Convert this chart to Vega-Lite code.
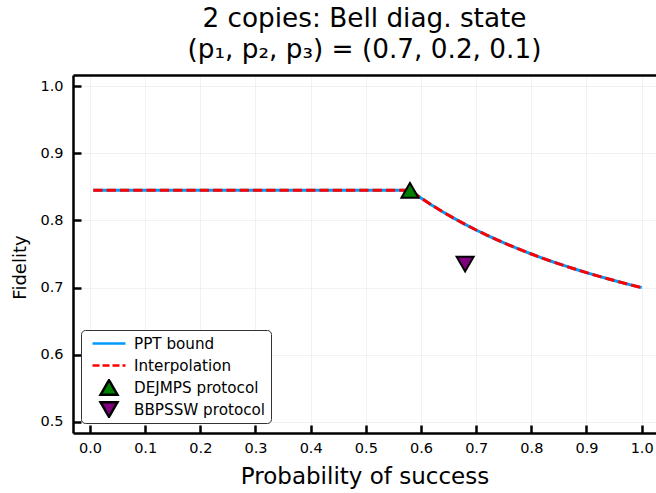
{
  "$schema": "https://vega.github.io/schema/vega-lite/v6.json",
  "width": 583,
  "height": 358,
  "autosize": {"type": "none"},
  "padding": {"left": 73, "top": 75, "right": 0, "bottom": 60},
  "background": "white",
  "config": {
    "font": "DejaVu Sans",
    "view": {"stroke": null},
    "axis": {
      "labelFont": "DejaVu Sans",
      "titleFont": "DejaVu Sans",
      "labelColor": "black",
      "titleColor": "black",
      "titleFontWeight": "normal",
      "domainColor": "black",
      "domainWidth": 2.5,
      "tickColor": "black",
      "tickWidth": 2.5,
      "gridColor": "#000000",
      "gridOpacity": 0.05,
      "gridWidth": 1
    },
    "legend": {
      "orient": "none",
      "legendX": 8,
      "legendY": 255,
      "padding": 5,
      "symbolOffset": 13,
      "labelOffset": 15,
      "rowPadding": 5,
      "clipHeight": 17,
      "labelFont": "DejaVu Sans",
      "labelFontSize": 15.2,
      "labelColor": "black",
      "labelLimit": 300,
      "symbolSize": 289,
      "symbolStrokeWidth": 2.5,
      "symbolOpacity": 1,
      "strokeColor": "#333333",
      "cornerRadius": 4,
      "fillColor": "white"
    }
  },
  "title": {
    "text": ["2 copies: Bell diag. state", "(p₁, p₂, p₃) = (0.7, 0.2, 0.1)"],
    "font": "DejaVu Sans",
    "fontSize": 26.3,
    "fontWeight": "normal",
    "color": "black",
    "lineHeight": 31,
    "anchor": "middle",
    "offset": 12
  },
  "data": {
    "values": [
      {"series": "PPT bound", "p": 0.006, "F": 0.8448},
      {"series": "PPT bound", "p": 0.2, "F": 0.8448},
      {"series": "PPT bound", "p": 0.4, "F": 0.8448},
      {"series": "PPT bound", "p": 0.58, "F": 0.8448},
      {"series": "PPT bound", "p": 0.6, "F": 0.8333},
      {"series": "PPT bound", "p": 0.62, "F": 0.8226},
      {"series": "PPT bound", "p": 0.64, "F": 0.8125},
      {"series": "PPT bound", "p": 0.66, "F": 0.8030},
      {"series": "PPT bound", "p": 0.68, "F": 0.7941},
      {"series": "PPT bound", "p": 0.7, "F": 0.7857},
      {"series": "PPT bound", "p": 0.72, "F": 0.7778},
      {"series": "PPT bound", "p": 0.74, "F": 0.7703},
      {"series": "PPT bound", "p": 0.76, "F": 0.7632},
      {"series": "PPT bound", "p": 0.78, "F": 0.7564},
      {"series": "PPT bound", "p": 0.8, "F": 0.75},
      {"series": "PPT bound", "p": 0.82, "F": 0.7439},
      {"series": "PPT bound", "p": 0.84, "F": 0.7381},
      {"series": "PPT bound", "p": 0.86, "F": 0.7326},
      {"series": "PPT bound", "p": 0.88, "F": 0.7273},
      {"series": "PPT bound", "p": 0.9, "F": 0.7222},
      {"series": "PPT bound", "p": 0.92, "F": 0.7174},
      {"series": "PPT bound", "p": 0.94, "F": 0.7128},
      {"series": "PPT bound", "p": 0.96, "F": 0.7083},
      {"series": "PPT bound", "p": 0.98, "F": 0.7041},
      {"series": "PPT bound", "p": 1.0, "F": 0.7},
      {"series": "Interpolation", "p": 0.006, "F": 0.8448},
      {"series": "Interpolation", "p": 0.2, "F": 0.8448},
      {"series": "Interpolation", "p": 0.4, "F": 0.8448},
      {"series": "Interpolation", "p": 0.58, "F": 0.8448},
      {"series": "Interpolation", "p": 0.6, "F": 0.8333},
      {"series": "Interpolation", "p": 0.62, "F": 0.8226},
      {"series": "Interpolation", "p": 0.64, "F": 0.8125},
      {"series": "Interpolation", "p": 0.66, "F": 0.8030},
      {"series": "Interpolation", "p": 0.68, "F": 0.7941},
      {"series": "Interpolation", "p": 0.7, "F": 0.7857},
      {"series": "Interpolation", "p": 0.72, "F": 0.7778},
      {"series": "Interpolation", "p": 0.74, "F": 0.7703},
      {"series": "Interpolation", "p": 0.76, "F": 0.7632},
      {"series": "Interpolation", "p": 0.78, "F": 0.7564},
      {"series": "Interpolation", "p": 0.8, "F": 0.75},
      {"series": "Interpolation", "p": 0.82, "F": 0.7439},
      {"series": "Interpolation", "p": 0.84, "F": 0.7381},
      {"series": "Interpolation", "p": 0.86, "F": 0.7326},
      {"series": "Interpolation", "p": 0.88, "F": 0.7273},
      {"series": "Interpolation", "p": 0.9, "F": 0.7222},
      {"series": "Interpolation", "p": 0.92, "F": 0.7174},
      {"series": "Interpolation", "p": 0.94, "F": 0.7128},
      {"series": "Interpolation", "p": 0.96, "F": 0.7083},
      {"series": "Interpolation", "p": 0.98, "F": 0.7041},
      {"series": "Interpolation", "p": 1.0, "F": 0.7},
      {"series": "DEJMPS protocol", "p": 0.58, "F": 0.8448},
      {"series": "BBPSSW protocol", "p": 0.68, "F": 0.735}
    ]
  },
  "layer": [
    {
      "transform": [{"filter": "datum.series === 'PPT bound'"}],
      "mark": {"type": "line", "strokeWidth": 3, "strokeCap": "butt", "color": "#009AFA"},
      "encoding": {
        "x": {
          "field": "p", "type": "quantitative",
          "scale": {"domain": [-0.0308, 1.026], "nice": false, "zero": false},
          "axis": {
            "values": [0, 0.1, 0.2, 0.3, 0.4, 0.5, 0.6, 0.7, 0.8, 0.9, 1.0],
            "format": ".1f",
            "title": "Probability of success",
            "titleFontSize": 23,
            "titleBaseline": "alphabetic",
            "titleY": 50.5,
            "labelFontSize": 14.5,
            "labelPadding": 16,
            "labelFlush": false,
            "tickSize": -8,
            "grid": true
          }
        },
        "y": {
          "field": "F", "type": "quantitative",
          "scale": {"domain": [0.4835, 1.0165], "nice": false, "zero": false},
          "axis": {
            "values": [0.5, 0.6, 0.7, 0.8, 0.9, 1.0],
            "format": ".1f",
            "title": "Fidelity",
            "titleFontSize": 18,
            "titleBaseline": "alphabetic",
            "titleAngle": -90,
            "titleAlign": "center",
            "titleX": -48,
            "titleY": 192,
            "labelFontSize": 14.5,
            "labelPadding": 18,
            "labelFlush": false,
            "tickSize": -8,
            "grid": true
          }
        }
      }
    },
    {
      "transform": [{"filter": "datum.series === 'Interpolation'"}],
      "mark": {"type": "line", "strokeWidth": 3, "strokeCap": "butt", "strokeDash": [9.3, 4], "color": "#FF0000"},
      "encoding": {
        "x": {"field": "p", "type": "quantitative", "axis": null},
        "y": {"field": "F", "type": "quantitative"}
      }
    },
    {
      "transform": [{"filter": "datum.series === 'DEJMPS protocol' || datum.series === 'BBPSSW protocol'"}],
      "mark": {"type": "point", "filled": true, "size": 289, "strokeWidth": 2, "opacity": 1},
      "encoding": {
        "x": {
          "field": "p", "type": "quantitative",
          "axis": {"orient": "top", "labels": false, "ticks": false, "grid": false, "domain": true, "title": null}
        },
        "y": {"field": "F", "type": "quantitative"},
        "fill": {
          "field": "series", "type": "nominal",
          "scale": {
            "domain": ["PPT bound", "Interpolation", "DEJMPS protocol", "BBPSSW protocol"],
            "range": ["transparent", "transparent", "#008000", "#800080"]
          },
          "legend": {"title": null}
        },
        "stroke": {
          "field": "series", "type": "nominal",
          "scale": {
            "domain": ["PPT bound", "Interpolation", "DEJMPS protocol", "BBPSSW protocol"],
            "range": ["#009AFA", "#FF0000", "#000000", "#000000"]
          },
          "legend": {"title": null}
        },
        "shape": {
          "field": "series", "type": "nominal",
          "scale": {
            "domain": ["PPT bound", "Interpolation", "DEJMPS protocol", "BBPSSW protocol"],
            "range": ["M-1.94,0H1.94", "M-1.94,0H1.94", "triangle-up", "triangle-down"]
          },
          "legend": {"title": null}
        },
        "strokeDash": {
          "field": "series", "type": "nominal",
          "scale": {
            "domain": ["PPT bound", "Interpolation", "DEJMPS protocol", "BBPSSW protocol"],
            "range": [[1, 0], [7, 3], [1, 0], [1, 0]]
          },
          "legend": {"title": null}
        }
      }
    }
  ],
  "resolve": {"axis": {"x": "independent"}}
}
